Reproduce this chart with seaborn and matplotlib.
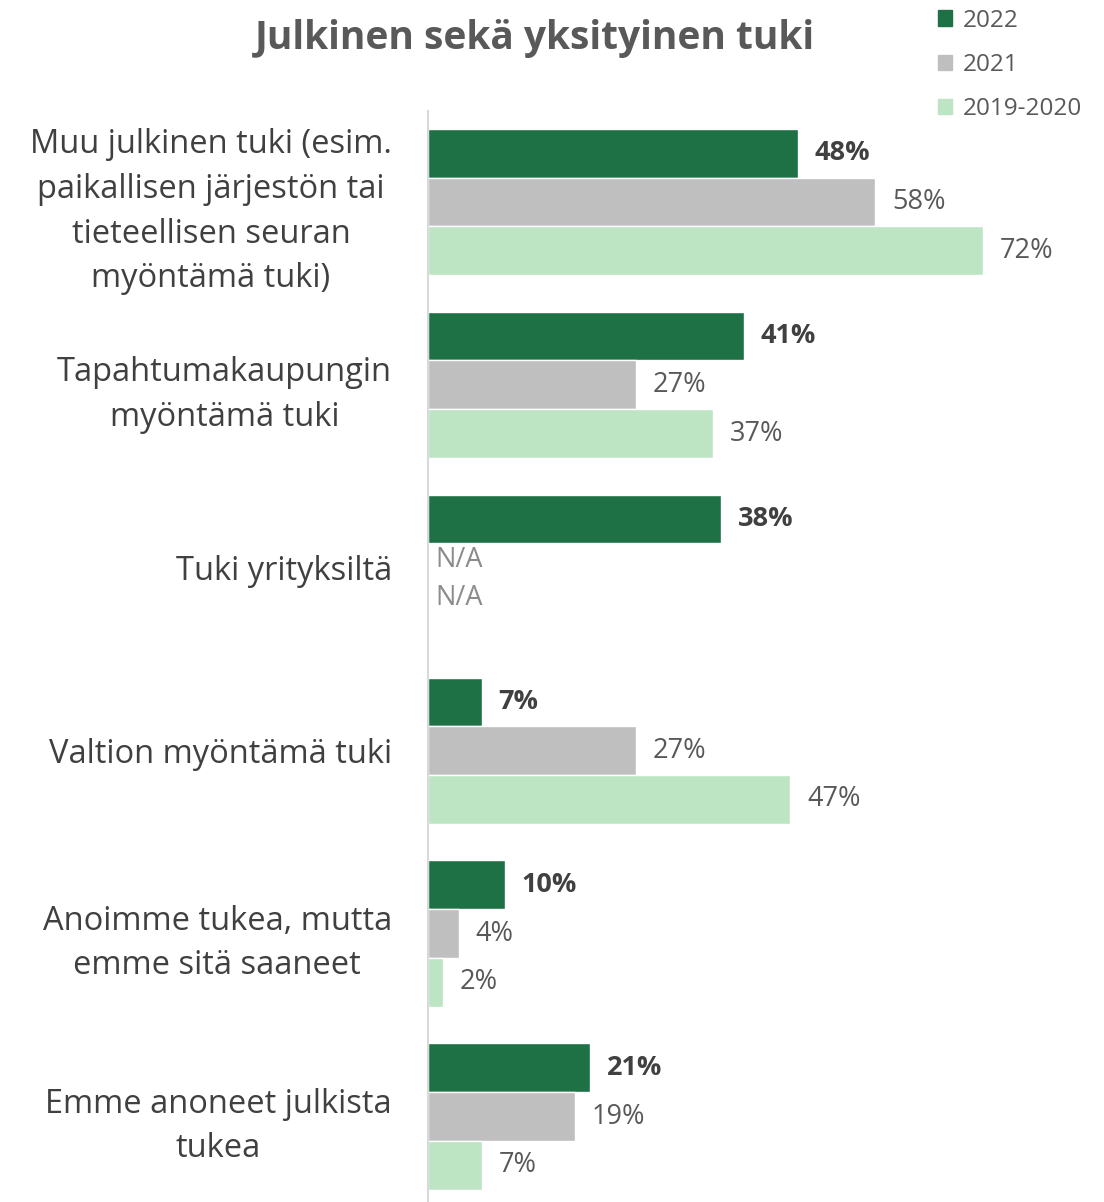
import numpy as np
import pandas as pd
import matplotlib
matplotlib.use("Agg")
import matplotlib.pyplot as plt
import seaborn as sns

categories = [
    "Muu julkinen tuki (esim.\npaikallisen järjestön tai\ntieteellisen seuran\nmyöntämä tuki)",
    "Tapahtumakaupungin\nmyöntämä tuki",
    "Tuki yrityksiltä",
    "Valtion myöntämä tuki",
    "Anoimme tukea, mutta\nemme sitä saaneet",
    "Emme anoneet julkista\ntukea",
]
series = ["2022", "2021", "2019-2020"]
v2022 = [48, 41, 38, 7, 10, 21]
v2021 = [58, 27, np.nan, 27, 4, 19]
v2019 = [72, 37, np.nan, 47, 2, 7]
colors = ["#1E7145", "#BFBFBF", "#BDE5C4"]

rows = []
for s, vals in zip(series, [v2022, v2021, v2019]):
    for c, v in zip(categories, vals):
        rows.append({"cat": c, "year": s, "val": v})
df = pd.DataFrame(rows)

sns.set_theme(style="white")
plt.rcParams["font.family"] = ["Open Sans", "DejaVu Sans"]

fig = plt.figure(figsize=(11.04, 12.02), dpi=100)
ax = fig.add_axes([428 / 1104, 1 - 1208 / 1202, (1045 - 428) / 1104, (1208 - 110.5) / 1202])

sns.barplot(data=df, y="cat", x="val", hue="year", order=categories, hue_order=series,
            palette=colors, orient="h", width=0.8, saturation=1, ax=ax, legend=True)

ax.set_xlim(0, 80)
ax.set_ylim(5.5, -0.5)
ax.set_xlabel("")
ax.set_ylabel("")
ax.set_xticks([])
for sp in ["top", "right", "bottom"]:
    ax.spines[sp].set_visible(False)
ax.spines["left"].set_color("#D9D9D9")
ax.spines["left"].set_linewidth(1.5)

ax.tick_params(axis="y", length=0, pad=26)
for lab in ax.get_yticklabels():
    lab.set_fontsize(23.5)
    lab.set_color("#404040")
    lab.set_multialignment("center")
    lab.set_linespacing(1.47)

for i, cont in enumerate(ax.containers):
    bold = (i == 0)
    ax.bar_label(cont, fmt=lambda v: "" if np.isnan(v) else f"{v:.0f}%", padding=12,
                 fontsize=19.5, color="#404040" if bold else "#595959",
                 fontweight="bold" if bold else "normal")

# N/A markers for missing values
na_shift = [0.0, -0.045, -0.10]
for j, vals in enumerate([v2022, v2021, v2019]):
    for i, v in enumerate(vals):
        if np.isnan(v):
            y = i + (j - 1) * 0.8 / 3 + na_shift[j]
            ax.text(0.9, y, "N/A", fontsize=19.5, color="#8C8C8C", va="center", ha="left")

leg = ax.get_legend()
leg.remove()
handles = [plt.Rectangle((0, 0), 1, 1, color=c) for c in colors]
fig.legend(handles, series, loc="upper left", bbox_to_anchor=(928 / 1104, 1 + 1 / 1202),
           frameon=False, fontsize=17.5, labelcolor="#595959", handlelength=0.6, handleheight=0.6,
           handletextpad=0.45, labelspacing=0.83, borderaxespad=0.0)

fig.text(535 / 1104, 1 - 38 / 1202, "Julkinen sekä yksityinen tuki", ha="center", va="center",
         fontsize=28, fontweight="bold", color="#595959")

fig.savefig("out.png", dpi=100)
